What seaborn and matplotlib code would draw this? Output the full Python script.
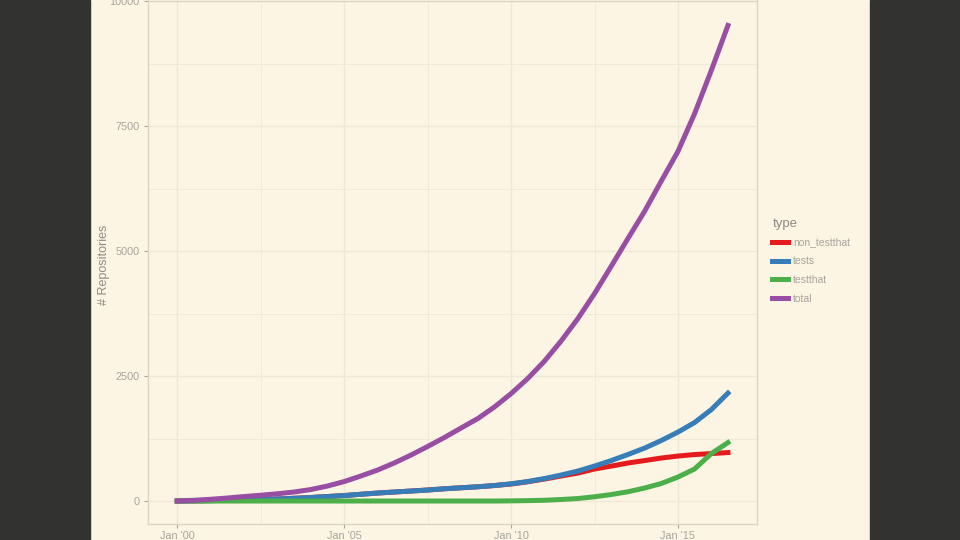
import numpy as np
import pandas as pd
import matplotlib
matplotlib.use("Agg")
import matplotlib.pyplot as plt
import matplotlib.dates as mdates
import seaborn as sns

# ---- data (half-yearly) ----
dates = pd.date_range("2000-01-01", periods=34, freq="6MS")
total = [0, 15, 35, 60, 90, 115, 145, 180, 230, 300, 390, 500, 620, 760, 920, 1090,
         1270, 1460, 1650, 1880, 2150, 2450, 2800, 3200, 3650, 4150, 4700, 5250,
         5800, 6400, 7000, 7750, 8620, 9520]
tests = [0, 3, 8, 14, 20, 30, 40, 55, 70, 90, 110, 135, 160, 180, 200, 220,
         245, 265, 285, 310, 345, 390, 450, 520, 600, 700, 810, 930,
         1060, 1210, 1380, 1570, 1830, 2160]
non_testthat = [0, 3, 8, 14, 20, 30, 40, 55, 70, 90, 110, 135, 160, 180, 200, 220,
                245, 265, 285, 310, 340, 385, 440, 500, 560, 640, 700, 760,
                810, 860, 900, 930, 950, 970]
testthat = [0, 0, 0, 0, 0, 0, 0, 0, 0, 0, 0, 0, 0, 0, 0, 0,
            0, 0, 0, 0, 3, 8, 15, 30, 50, 85, 130, 185,
            260, 350, 480, 640, 950, 1170]
types = ["non_testthat", "tests", "testthat", "total"]
colors = ["#E41A1C", "#377EB8", "#4DAF4A", "#984EA3"]

df = pd.concat([
    pd.DataFrame({"date": dates, "n": vals, "type": t})
    for t, vals in zip(types, [non_testthat, tests, testthat, total])
])

plt.rcParams["font.family"] = ["Liberation Sans", "DejaVu Sans"]

BG = "#FCF5E4"
DARK = "#323230"
TXT = "#A7A49C"
GRID = "#EFE8D6"

fig = plt.figure(figsize=(9.6, 5.4), dpi=100, facecolor=BG)
# dark side bands
fig.patches.append(plt.Rectangle((0, 0), 90 / 960, 1, transform=fig.transFigure,
                                 color=DARK, zorder=0))
fig.patches.append(plt.Rectangle((870 / 960, 0), 90 / 960, 1, transform=fig.transFigure,
                                 color=DARK, zorder=0))

ax = fig.add_axes([148 / 960, 1 - 524 / 540, 609 / 960, 523.5 / 540])
ax.set_facecolor(BG)

sns.lineplot(data=df, x="date", y="n", hue="type", hue_order=types,
             palette=colors, linewidth=3.6, ax=ax, legend=True)

ax.set_xlim(pd.Timestamp("1999-02-15"), pd.Timestamp("2017-05-15"))
ax.set_ylim(-460, 10020)

ax.xaxis.set_major_locator(mdates.YearLocator(5))
ax.xaxis.set_major_formatter(mdates.DateFormatter("Jan '%y"))
ax.set_xticks([pd.Timestamp("2002-07-02"), pd.Timestamp("2007-07-02"),
               pd.Timestamp("2012-07-02")], minor=True)
ax.set_yticks([0, 2500, 5000, 7500, 10000])
ax.set_yticks([1250, 3750, 6250, 8750], minor=True)

ax.grid(True, which="major", color=GRID, linewidth=1.0, zorder=0)
ax.grid(True, which="minor", color=GRID, linewidth=0.6, zorder=0)
ax.set_axisbelow(True)

ax.tick_params(axis="both", which="major", colors=TXT, labelsize=7.8,
               length=3, width=0.8, pad=3)
ax.tick_params(axis="x", which="major", pad=2)
ax.tick_params(axis="both", which="minor", length=0)
for s in ax.spines.values():
    s.set_color("#DCD5C4")
    s.set_linewidth(1.0)

ax.set_xlabel("")
ax.set_ylabel("# Repositories", color="#8E8B84", fontsize=9)
ax.yaxis.set_label_coords(-0.0624, 0.495)

ax.get_legend().remove()
handles, labels = ax.get_legend_handles_labels()
leg = fig.legend(handles, labels, loc="upper left",
                 bbox_to_anchor=(763 / 960, 1 - 209 / 540),
                 title="type", frameon=False, fontsize=7.5, title_fontsize=9.5,
                 handlelength=1.5, handletextpad=0.5, labelspacing=0.85,
                 alignment="left")
leg._legend_box.sep = 5
for t in leg.get_texts():
    t.set_color(TXT)
leg.get_title().set_color("#8E8B84")
for h in leg.legend_handles:
    h.set_linewidth(3.6)

fig.savefig("out.png", dpi=100, facecolor=BG)
